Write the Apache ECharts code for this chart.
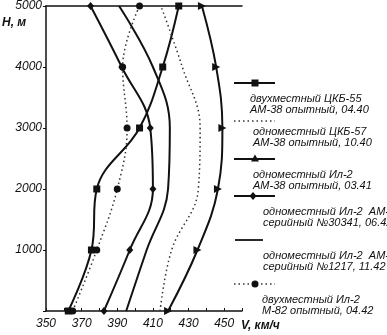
<!DOCTYPE html>
<html><head><meta charset="utf-8">
<script src="https://cdn.jsdelivr.net/npm/echarts@6/dist/echarts.min.js"></script>
<style>html,body{margin:0;padding:0;background:#fff;}#c{width:387px;height:335px;}</style>
</head><body><div id="c"></div>
<script>
// Heights (m)
const heights = [0, 1000, 2000, 3000, 4000, 5000];
// Speeds (km/h) at each height
const ckb55 = [362.5, 375.5, 378.5, 402.5, 415.5, 424.5];      // двухместный ЦКБ-55
const ckb57 = [414, 420.5, 435.5, 436.5, 426.5, 414.5];         // одноместный ЦКБ-57
const il2_41 = [418.5, 435, 446.5, 449, 445.5, 437.5];          // одноместный Ил-2 03.41
const il2_30341 = [382.5, 397, 410, 408.5, 392.5, 375];         // серийный №30341
const il2_1217 = [395, 406.5, 418.5, 419.5, 410, 391];          // серийный №1217
const il2_m82 = [365, 378.5, 390, 395.5, 393, 402.5];           // двухместный Ил-2 М-82
const seriesNames = [
  ['двухместный ЦКБ-55', 'АМ-38 опытный, 04.40'],
  ['одноместный ЦКБ-57', 'АМ-38 опытный, 10.40'],
  ['одноместный Ил-2', 'АМ-38 опытный, 03.41'],
  ['одноместный Ил-2  АМ-38', 'серийный №30341, 06.42'],
  ['одноместный Ил-2  АМ-38', 'серийный №1217, 11.42'],
  ['двухместный Ил-2', 'М-82 опытный, 04.42']
];
const xTickLabels = [350, 370, 390, 410, 430, 450];
const yTickLabels = [1000, 2000, 3000, 4000, 5000];

const INK = '#111';
const FONT = '"Liberation Sans", Arial, sans-serif';
function pts(arr){ return arr.map((v,i)=>[v, heights[i]]); }

const solid = {color: INK, width: 2};
const dotted = {color: '#333', width: 1.5, type: [1.5, 3]};

const series = [
  {name: seriesNames[0].join(' '), type:'line', smooth:0.4, data: pts(ckb55), lineStyle: solid,
   symbol:'rect', symbolSize:7, itemStyle:{color:INK}},
  {name: seriesNames[1].join(' '), type:'line', smooth:0.4, data: pts(ckb57), lineStyle: dotted,
   symbol:'none'},
  {name: seriesNames[2].join(' '), type:'line', smooth:0.4, data: pts(il2_41), lineStyle: solid,
   symbol:'triangle', symbolSize:8, symbolRotate:-90, itemStyle:{color:INK}},
  {name: seriesNames[3].join(' '), type:'line', smooth:0.4, data: pts(il2_30341), lineStyle: solid,
   symbol:'diamond', symbolSize:[7,8], itemStyle:{color:INK}},
  {name: seriesNames[4].join(' '), type:'line', smooth:0.4, data: pts(il2_1217), lineStyle: solid,
   symbol:'none'},
  {name: seriesNames[5].join(' '), type:'line', smooth:0.4, data: pts(il2_m82), lineStyle: dotted,
   symbol:'circle', symbolSize:7, itemStyle:{color:INK}}
];

// Legend (custom layout: sample line above two-line caption)
const legendRows = [
  {ly:83, x1:234, x2:275, mark:'rect', mx:255, dotted:false, tx:250, t1:99, t2:110},
  {ly:121, x1:234, x2:275, mark:null, mx:0, dotted:true, tx:253, t1:132, t2:143},
  {ly:159, x1:234, x2:275, mark:'tri', mx:255, dotted:false, tx:253, t1:175, t2:186},
  {ly:196, x1:234, x2:275, mark:'dia', mx:253, dotted:false, tx:263, t1:212, t2:223},
  {ly:240, x1:235, x2:263, mark:null, mx:0, dotted:false, tx:263, t1:256, t2:267},
  {ly:284, x1:234, x2:275, mark:'circ', mx:255, dotted:true, tx:262, t1:300, t2:311}
];
const graphic = [];
legendRows.forEach((r, i) => {
  graphic.push({type:'line', shape:{x1:r.x1, y1:r.ly, x2:r.x2, y2:r.ly},
    style:{stroke: r.dotted ? '#333' : INK, lineWidth: r.dotted ? 1.5 : 1.8, lineDash: r.dotted ? [1.5,3] : null}});
  if (r.mark === 'rect') graphic.push({type:'rect', shape:{x:r.mx-3.5, y:r.ly-3.5, width:7, height:7}, style:{fill:INK}});
  if (r.mark === 'tri') graphic.push({type:'polygon', shape:{points:[[r.mx, r.ly-4.5],[r.mx-4, r.ly+2.5],[r.mx+4, r.ly+2.5]]}, style:{fill:INK}});
  if (r.mark === 'dia') graphic.push({type:'polygon', shape:{points:[[r.mx, r.ly-4],[r.mx+3.5, r.ly],[r.mx, r.ly+4],[r.mx-3.5, r.ly]]}, style:{fill:INK}});
  if (r.mark === 'circ') graphic.push({type:'circle', shape:{cx:r.mx, cy:r.ly, r:3.5}, style:{fill:INK}});
  graphic.push({type:'text', x:r.tx, y:r.t1, style:{text: seriesNames[i][0], font:'italic 11px ' + FONT, fill:INK, verticalAlign:'middle'}});
  graphic.push({type:'text', x:r.tx, y:r.t2, style:{text: seriesNames[i][1], font:'italic 11px ' + FONT, fill:INK, verticalAlign:'middle'}});
});
graphic.push({type:'text', x:2, y:23, style:{text:'H, м', font:'italic bold 12px ' + FONT, fill:INK, verticalAlign:'middle'}});
graphic.push({type:'text', x:241, y:326, style:{text:'V, км/ч', font:'italic bold 12px ' + FONT, fill:INK, verticalAlign:'middle'}});

const axisLineStyle = {color: INK, width: 1.5};
const option = {
  backgroundColor: '#fff',
  animation: false,
  grid: {left: 46, right: 145, top: 6, bottom: 24, containLabel: false},
  xAxis: [
    {type:'value', min:350, max:460, interval:10, position:'bottom',
     axisLine:{show:true, lineStyle:axisLineStyle},
     axisTick:{show:true, inside:true, length:3, lineStyle:{color:INK}},
     splitLine:{show:false},
     axisLabel:{margin:7, color:INK, fontSize:12, fontStyle:'italic', fontFamily:FONT,
       formatter: v => xTickLabels.includes(v) ? String(v) : ''}},
    {type:'value', min:350, max:460, interval:10, position:'top',
     axisLine:{show:true, lineStyle:axisLineStyle}, axisTick:{show:false}, axisLabel:{show:false}, splitLine:{show:false}}
  ],
  yAxis: {type:'value', min:0, max:5000, interval:1000,
    axisLine:{show:true, lineStyle:axisLineStyle},
    axisTick:{show:true, length:3, lineStyle:{color:INK}},
    splitLine:{show:false},
    axisLabel:{margin:4, color:INK, fontSize:12, fontStyle:'italic', fontFamily:FONT,
      formatter: v => yTickLabels.includes(v) ? String(v) : ''}},
  series: series,
  graphic: graphic
};
const chart = echarts.init(document.getElementById('c'), null, {renderer:'canvas'});
chart.setOption(option);
</script></body></html>
